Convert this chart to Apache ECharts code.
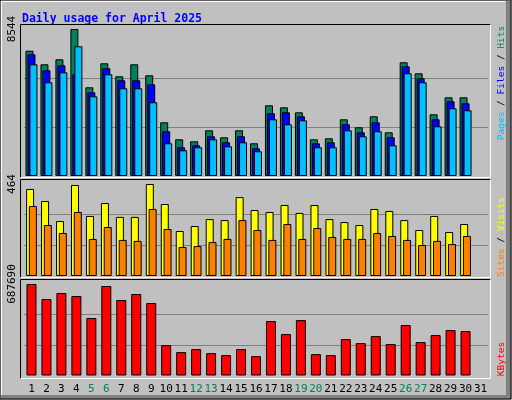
<!DOCTYPE html>
<html><head><meta charset="utf-8">
<script src="https://cdn.jsdelivr.net/npm/echarts@6/dist/echarts.min.js"></script>
<style>html,body{margin:0;padding:0;}#c{width:512px;height:400px;}</style>
</head><body><div id="c"></div>
<script>
const days = ['1','2','3','4','5','6','7','8','9','10','11','12','13','14','15','16','17','18','19','20','21','22','23','24','25','26','27','28','29','30','31'];
const weekend = ['5','6','12','13','19','20','26','27'];
const hits  = [7283,6492,6783,8544,5155,6550,5795,6492,5853,3121,2133,2017,2656,2249,2656,1901,4109,3993,3702,2133,2191,3295,2830,3470,2540,6609,5969,3586,4574,4574];
const files = [7073,6143,6434,5911,4865,6260,5562,5562,5330,2598,1668,1785,2307,1959,2307,1610,3644,3702,3470,1901,1959,3005,2540,3121,2249,6376,5679,3295,4342,4226];
const pages = [6492,5446,6027,7539,4632,5911,5097,5097,4284,1901,1494,1668,2133,1726,1959,1436,3295,3005,3237,1668,1668,2656,2307,2598,1785,5969,5446,2888,3935,3819];
const visits = [439,378,277,459,303,368,298,298,464,363,227,252,287,282,398,333,323,358,318,358,287,272,257,338,328,282,232,303,222,262];
const sites  = [353,257,217,323,187,247,182,177,338,237,146,151,171,187,282,232,182,262,187,242,197,187,187,217,202,182,156,177,161,202];
const kbytes = [687690,574744,619921,597332,431686,672626,567215,612391,544627,228392,175686,198274,168157,153098,198274,145568,409097,311215,416627,160627,153098,273568,243451,296156,235921,378980,250980,303686,341333,333803];
const maxHits = 8544, maxVisits = 464, maxKB = 687690;

const chart = echarts.init(document.getElementById('c'));
const grids = [
  {left:24, top:29, width:464, height:147},
  {left:24, top:184, width:464, height:92},
  {left:24, top:284, width:464, height:91.5}
];
function yAx(i, max){
  return {gridIndex:i, type:'value', min:0, max:max, interval:max/3,
    axisLine:{show:false}, axisTick:{show:false},
    splitLine:{show:true, lineStyle:{color:['transparent','#808080','#808080','transparent'], width:1}},
    axisLabel:{rotate:90, margin:6, color:'#000', fontFamily:'DejaVu Sans Mono', fontSize:11,
      formatter:(v)=> Math.abs(v-max)<1e-6 ? String(max) : ''}};
}
function xAx(i, show){
  return {gridIndex:i, type:'category', data:days, boundaryGap:true,
    axisLine:{show:false}, axisTick:{show:false}, splitLine:{show:false},
    axisLabel:{show:show, interval:0, margin:8, fontFamily:'DejaVu Sans Mono', fontSize:11,
      color:(v)=> weekend.includes(v) ? '#00805c' : '#000'}};
}
function bar(name, data, color, xi, w, gap){
  return {name, type:'bar', data, xAxisIndex:xi, yAxisIndex:xi, barWidth:w, barGap:gap,
    itemStyle:{color, borderColor:'#000', borderWidth:1}, animation:false, silent:true};
}
function panel(x1,y1,x2,y2){
  return [
    {type:'line', shape:{x1:x1,y1:y1,x2:x2,y2:y1}, style:{stroke:'#000',lineWidth:1}, z:10},
    {type:'line', shape:{x1:x1,y1:y1,x2:x1,y2:y2}, style:{stroke:'#000',lineWidth:1}, z:10},
    {type:'line', shape:{x1:x1,y1:y2,x2:x2,y2:y2}, style:{stroke:'#fff',lineWidth:1}, z:10},
    {type:'line', shape:{x1:x2,y1:y1,x2:x2,y2:y2}, style:{stroke:'#fff',lineWidth:1}, z:10}
  ];
}
const mono = 'DejaVu Sans Mono';
chart.setOption({
  backgroundColor:'#c0c0c0',
  animation:false,
  title:{text:'Daily usage for April 2025', left:17, top:8,
    textStyle:{color:'#0000ff', fontFamily:mono, fontSize:11.5, fontWeight:'bold'}},
  grid:grids,
  xAxis:[xAx(0,false), xAx(1,false), xAx(2,true)],
  yAxis:[yAx(0,maxHits), yAx(1,maxVisits), yAx(2,maxKB)],
  series:[
    bar('Hits', hits, '#00805c', 0, 8, '-75%'),
    bar('Files', files, '#0000ff', 0, 8, '-75%'),
    bar('Pages', pages, '#00c0ff', 0, 8, '-75%'),
    bar('Visits', visits, '#ffff00', 1, 8, '-65%'),
    bar('Sites', sites, '#ff8000', 1, 8, '-65%'),
    bar('KBytes', kbytes, '#ff0000', 2, 10, '0%')
  ],
  graphic:[
    {type:'rect', shape:{x:0,y:0,width:511,height:399}, style:{fill:'none',stroke:'#000',lineWidth:1}, z:20},
    {type:'rect', shape:{x:506,y:1,width:5,height:398}, style:{fill:'#808080'}, z:19},
    {type:'rect', shape:{x:1,y:395,width:510,height:4}, style:{fill:'#808080'}, z:19},
    {type:'line', shape:{x1:1.5,y1:1.5,x2:505,y2:1.5}, style:{stroke:'#fff',lineWidth:1}, z:19},
    {type:'line', shape:{x1:1.5,y1:1.5,x2:1.5,y2:395}, style:{stroke:'#fff',lineWidth:1}, z:19},
    ...panel(20.5,24.5,490.5,177.5),
    ...panel(20.5,179.5,490.5,277.5),
    ...panel(20.5,279.5,490.5,378.5),
    {type:'text', x:502, y:83, rotation:Math.PI/2, z:20,
      style:{text:'{p|Pages} / {f|Files} / {h|Hits}', fontFamily:mono, fontSize:9.5, fill:'#000',
        align:'center', verticalAlign:'middle',
        rich:{p:{fill:'#00c0ff',fontFamily:mono,fontSize:9.5}, f:{fill:'#0000ff',fontFamily:mono,fontSize:9.5}, h:{fill:'#00805c',fontFamily:mono,fontSize:9.5}}}},
    {type:'text', x:502, y:237, rotation:Math.PI/2, z:20,
      style:{text:'{s|Sites} / {v|Visits}', fontFamily:mono, fontSize:9.5, fill:'#000',
        align:'center', verticalAlign:'middle',
        rich:{s:{fill:'#ff8000',fontFamily:mono,fontSize:9.5}, v:{fill:'#ffff00',fontFamily:mono,fontSize:9.5}}}},
    {type:'text', x:502, y:359, rotation:Math.PI/2, z:20,
      style:{text:'KBytes', fontFamily:mono, fontSize:9.5, fill:'#ff0000', align:'center', verticalAlign:'middle'}}
  ]
});
</script></body></html>
